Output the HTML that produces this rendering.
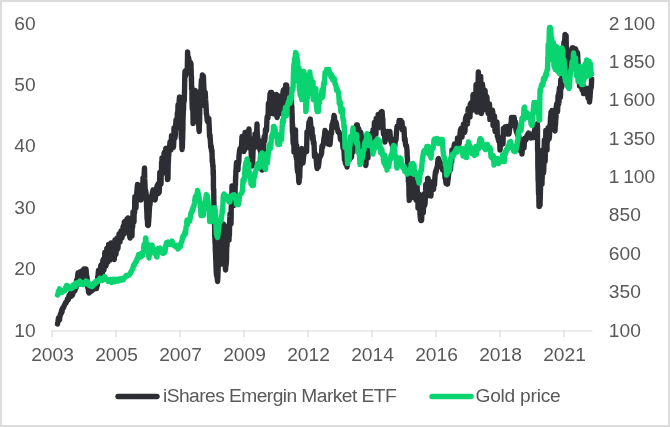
<!DOCTYPE html><html><head><meta charset="utf-8"><style>
html,body{margin:0;padding:0;background:#fff;}
svg{display:block;}
text{font-family:"Liberation Sans",sans-serif;font-size:19.2px;fill:#595959;}
</style></head><body><div style="will-change:transform;width:670px;height:427px">
<svg width="670" height="427" viewBox="0 0 670 427">
<rect x="0" y="0" width="670" height="427" fill="#fff"/>
<rect x="1" y="1" width="668" height="425" fill="none" stroke="#dcdcdc" stroke-width="2"/>
<path d="M51.5 331H592.5" stroke="#d9d9d9" stroke-width="1.2" fill="none"/>
<path d="M52 330.5V337" stroke="#d9d9d9" stroke-width="1.2" fill="none"/>
<path d="M116 330.5V337" stroke="#d9d9d9" stroke-width="1.2" fill="none"/>
<path d="M180 330.5V337" stroke="#d9d9d9" stroke-width="1.2" fill="none"/>
<path d="M244 330.5V337" stroke="#d9d9d9" stroke-width="1.2" fill="none"/>
<path d="M308 330.5V337" stroke="#d9d9d9" stroke-width="1.2" fill="none"/>
<path d="M372 330.5V337" stroke="#d9d9d9" stroke-width="1.2" fill="none"/>
<path d="M436 330.5V337" stroke="#d9d9d9" stroke-width="1.2" fill="none"/>
<path d="M500 330.5V337" stroke="#d9d9d9" stroke-width="1.2" fill="none"/>
<path d="M564 330.5V337" stroke="#d9d9d9" stroke-width="1.2" fill="none"/>
<text x="35.7" y="29.5" text-anchor="end">60</text>
<text x="35.7" y="90.9" text-anchor="end">50</text>
<text x="35.7" y="152.3" text-anchor="end">40</text>
<text x="35.7" y="213.7" text-anchor="end">30</text>
<text x="35.7" y="275.1" text-anchor="end">20</text>
<text x="35.7" y="336.5" text-anchor="end">10</text>
<text x="608.8" y="29.5" style="word-spacing:-1.6px">2 100</text>
<text x="608.8" y="67.9" style="word-spacing:-1.6px">1 850</text>
<text x="608.8" y="106.3" style="word-spacing:-1.6px">1 600</text>
<text x="608.8" y="144.6" style="word-spacing:-1.6px">1 350</text>
<text x="608.8" y="183.0" style="word-spacing:-1.6px">1 100</text>
<text x="608.8" y="221.4" style="word-spacing:-1.6px">850</text>
<text x="608.8" y="259.8" style="word-spacing:-1.6px">600</text>
<text x="608.8" y="298.1" style="word-spacing:-1.6px">350</text>
<text x="608.8" y="336.5" style="word-spacing:-1.6px">100</text>
<text x="52.5" y="361" text-anchor="middle">2003</text>
<text x="116.5" y="361" text-anchor="middle">2005</text>
<text x="180.5" y="361" text-anchor="middle">2007</text>
<text x="244.5" y="361" text-anchor="middle">2009</text>
<text x="308.5" y="361" text-anchor="middle">2012</text>
<text x="372.5" y="361" text-anchor="middle">2014</text>
<text x="436.5" y="361" text-anchor="middle">2016</text>
<text x="500.5" y="361" text-anchor="middle">2018</text>
<text x="564.5" y="361" text-anchor="middle">2021</text>
<polyline points="57.5,324.0 58.0,321.4 58.5,317.9 59.0,319.0 59.5,320.0 60.0,316.0 60.5,313.9 61.0,314.1 61.5,310.5 62.0,312.0 62.5,308.3 63.0,308.5 63.5,307.8 64.0,306.0 64.5,305.5 65.0,303.8 65.5,302.7 66.0,303.0 66.5,301.7 67.0,300.3 67.5,298.7 68.0,300.0 68.5,298.7 69.0,295.5 69.5,295.5 70.0,297.0 70.5,293.2 71.0,294.3 71.5,296.1 72.0,294.0 72.5,295.0 73.0,293.1 73.5,290.7 74.0,291.0 74.5,288.9 75.0,290.7 75.5,286.8 76.0,288.0 76.5,280.4 77.0,280.0 77.5,277.7 78.0,273.0 78.3,282.2 78.7,279.7 79.0,284.0 79.2,276.9 79.5,277.5 79.8,274.1 80.0,272.0 80.3,274.1 80.7,279.1 81.0,283.0 81.2,278.2 81.5,278.8 81.8,272.7 82.0,271.0 82.2,272.6 82.5,275.9 82.8,283.7 83.0,284.0 83.2,282.9 83.4,282.7 83.6,279.4 83.8,275.6 84.0,269.0 84.2,275.4 84.5,280.0 84.8,283.5 85.0,282.0 85.2,282.5 85.5,277.2 85.8,278.9 86.0,269.0 86.5,275.2 87.0,277.0 87.3,281.1 87.7,287.5 88.0,286.0 88.5,291.8 89.0,293.0 89.5,292.0 90.0,291.2 90.5,291.8 91.0,290.0 91.5,288.0 92.0,289.4 92.5,290.2 93.0,288.0 93.5,289.4 94.0,288.5 94.5,288.8 95.0,287.0 95.5,288.5 96.0,288.5 96.5,288.5 97.0,285.0 97.3,285.5 97.7,277.0 98.0,276.0 98.5,270.3 99.0,270.0 99.3,278.9 99.7,280.7 100.0,280.0 100.2,278.1 100.4,277.7 100.6,267.9 100.8,265.5 101.0,265.0 101.3,272.2 101.7,276.5 102.0,275.0 102.2,276.1 102.4,272.3 102.6,272.5 102.8,261.0 103.0,260.0 103.3,259.3 103.7,263.7 104.0,270.0 104.2,265.3 104.4,266.9 104.6,260.8 104.8,252.5 105.0,254.0 105.2,252.5 105.5,252.5 105.8,255.5 106.0,266.0 106.2,264.2 106.4,260.0 106.6,255.1 106.8,248.5 107.0,250.0 107.2,252.2 107.5,255.9 107.8,254.3 108.0,262.0 108.2,255.7 108.4,248.9 108.6,244.5 108.8,244.5 109.0,246.0 109.2,244.5 109.5,244.5 109.8,249.6 110.0,260.0 110.2,256.6 110.4,257.1 110.6,253.9 110.8,252.0 111.0,243.0 111.2,254.2 111.5,256.6 111.8,255.1 112.0,256.0 112.3,257.5 112.7,251.6 113.0,246.0 113.2,250.7 113.5,250.3 113.8,256.4 114.0,258.0 114.2,259.5 114.4,257.5 114.6,253.8 114.8,253.3 115.0,240.0 115.2,242.7 115.5,247.4 115.8,254.6 116.0,254.0 116.2,250.8 116.4,246.5 116.6,249.8 116.8,241.6 117.0,238.0 117.3,249.5 117.7,248.7 118.0,248.0 118.2,241.9 118.5,237.0 118.8,235.9 119.0,234.0 119.5,237.6 120.0,242.0 120.3,236.4 120.7,233.0 121.0,231.0 121.5,233.2 122.0,238.0 122.3,235.8 122.7,233.1 123.0,227.0 123.5,225.5 124.0,234.0 124.3,221.8 124.7,221.5 125.0,223.0 125.5,222.5 126.0,230.0 126.3,227.5 126.7,228.8 127.0,219.0 127.5,220.5 128.0,218.0 128.2,224.3 128.5,225.7 128.8,231.5 129.0,230.0 129.5,235.8 130.0,238.0 130.2,234.3 130.4,232.4 130.6,231.4 130.8,230.0 131.0,222.0 131.2,227.7 131.5,227.3 131.8,231.3 132.0,236.0 132.1,229.0 132.3,228.3 132.4,224.4 132.6,227.2 132.7,226.0 132.9,219.9 133.0,212.0 133.3,213.2 133.7,219.2 134.0,222.0 134.1,212.6 134.3,210.9 134.4,210.8 134.6,212.9 134.7,203.5 134.9,196.7 135.0,198.0 135.3,200.4 135.7,199.6 136.0,208.0 136.2,201.1 136.4,200.9 136.6,197.0 136.8,192.8 137.0,190.0 137.5,184.5 138.0,186.0 138.3,184.8 138.7,191.1 139.0,196.0 139.5,195.8 140.0,198.7 140.5,198.0 141.0,200.0 141.3,191.3 141.6,187.8 141.9,188.3 142.1,194.8 142.4,193.9 142.7,192.5 143.0,178.0 143.5,179.5 144.0,177.1 144.5,168.0 144.7,178.9 144.9,182.3 145.1,188.4 145.4,190.0 145.6,190.2 145.8,193.5 146.0,192.0 146.2,199.4 146.4,198.6 146.6,207.7 146.8,210.2 147.0,216.8 147.2,219.8 147.4,218.3 147.6,224.8 147.8,223.8 148.0,224.0 148.3,225.5 148.7,220.5 149.0,216.6 149.3,210.6 149.7,203.5 150.0,205.0 150.6,196.7 151.2,199.4 151.8,196.1 152.4,192.6 153.0,190.0 153.5,192.1 154.0,196.4 154.5,195.2 155.0,200.0 155.5,197.1 156.0,191.8 156.5,190.0 157.0,186.0 157.5,186.5 158.0,184.0 158.5,193.5 159.0,192.0 159.2,192.3 159.4,186.6 159.6,182.7 159.8,172.5 160.0,174.0 160.3,172.5 160.7,172.6 161.0,184.0 161.1,180.7 161.2,171.7 161.4,172.0 161.5,168.9 161.6,162.5 161.8,168.8 161.9,165.0 162.0,158.0 162.2,172.3 162.5,172.7 162.8,166.5 163.0,172.0 163.2,173.2 163.4,170.2 163.6,158.5 163.8,162.3 164.0,154.0 164.2,152.5 164.5,162.9 164.8,166.1 165.0,166.0 165.2,165.1 165.4,156.8 165.6,155.7 165.8,148.5 166.0,150.0 166.2,148.5 166.5,151.4 166.8,162.5 167.0,164.0 167.2,171.5 167.5,179.5 167.8,179.5 168.0,178.0 168.1,170.6 168.2,163.5 168.4,162.3 168.5,157.9 168.6,154.9 168.8,155.1 168.9,149.1 169.0,150.0 169.5,147.9 170.0,142.0 170.5,144.8 171.0,150.0 171.2,144.6 171.5,135.8 171.8,137.2 172.0,136.0 172.3,141.3 172.7,147.5 173.0,146.0 173.2,147.5 173.4,147.5 173.6,146.0 173.8,139.4 174.0,128.0 174.3,130.4 174.7,134.2 175.0,138.0 175.2,136.0 175.4,135.2 175.6,124.6 175.8,124.1 176.0,120.0 176.5,120.3 177.0,128.0 177.1,125.0 177.3,113.7 177.4,112.7 177.6,112.8 177.7,113.7 177.9,109.6 178.0,105.0 178.5,106.5 179.0,103.6 179.5,97.0 179.7,110.3 179.9,117.5 180.1,118.0 180.4,118.8 180.6,121.5 180.8,121.5 181.0,120.0 181.1,128.0 181.2,132.9 181.4,138.5 181.5,136.4 181.6,137.3 181.8,141.2 181.9,147.2 182.0,148.0 182.1,149.5 182.2,140.1 182.4,147.5 182.5,141.0 182.6,140.3 182.8,132.7 182.9,128.1 183.0,120.0 183.2,114.9 183.3,110.7 183.5,110.5 183.7,102.3 183.8,99.9 184.0,100.0 184.2,101.4 184.5,92.1 184.8,74.6 185.0,71.1 185.2,74.8 185.5,76.2 185.8,70.5 186.0,72.0 186.3,72.1 186.5,70.8 186.8,73.5 187.1,72.9 187.3,70.2 187.6,52.0 188.1,61.5 188.5,57.3 189.0,60.0 189.5,63.1 190.0,63.3 190.5,62.5 191.0,64.0 191.1,69.3 191.2,70.4 191.3,75.9 191.4,81.1 191.5,77.4 191.5,79.8 191.6,88.8 191.7,87.6 191.8,86.6 191.9,89.0 192.0,100.0 192.3,108.7 192.6,108.0 192.9,110.1 193.1,123.5 193.4,115.7 193.7,109.9 194.0,122.0 194.2,118.4 194.4,107.9 194.7,112.9 194.9,104.9 195.1,105.3 195.3,90.5 195.6,94.7 195.8,97.5 196.0,92.0 196.2,111.3 196.5,108.1 196.8,113.4 197.0,119.5 197.2,120.0 197.5,120.6 197.8,112.6 198.0,117.8 198.2,121.9 198.5,119.7 198.8,126.7 199.0,130.0 199.2,131.5 199.3,127.0 199.5,124.0 199.7,114.2 199.8,108.4 200.0,100.3 200.2,98.5 200.3,98.5 200.5,100.0 200.7,90.1 201.0,89.7 201.2,84.3 201.4,80.2 201.7,83.4 201.9,85.9 202.2,79.7 202.4,75.0 202.7,76.6 203.0,78.0 203.4,76.2 203.7,84.3 204.0,90.0 204.4,99.0 204.8,105.8 205.2,92.2 205.6,99.9 206.0,105.0 206.4,113.7 206.8,115.2 207.2,120.4 207.6,121.5 208.0,120.0 208.4,118.7 208.8,118.5 209.2,126.7 209.6,136.4 210.0,135.0 210.4,141.2 210.8,147.7 211.2,145.9 211.6,151.5 212.0,150.0 212.2,161.1 212.4,158.8 212.6,162.0 212.8,166.5 213.0,165.0 213.1,166.4 213.1,169.9 213.2,174.8 213.2,170.3 213.3,170.4 213.4,176.3 213.4,183.7 213.5,190.0 213.6,188.5 213.7,190.0 213.8,194.7 213.9,202.9 214.1,208.9 214.2,212.4 214.3,213.1 214.4,213.8 214.5,220.0 214.6,225.4 214.7,231.7 214.8,237.1 214.9,236.3 215.0,242.7 215.1,241.5 215.2,242.1 215.3,249.8 215.4,251.9 215.5,252.0 215.7,257.8 216.0,265.4 216.2,270.8 216.4,273.5 216.7,276.1 216.9,273.6 217.2,277.6 217.4,280.0 217.6,281.5 217.7,278.1 217.8,278.8 218.0,272.6 218.2,267.1 218.3,262.5 218.4,258.1 218.6,252.0 218.7,246.3 218.9,243.1 219.0,237.4 219.1,236.2 219.3,233.2 219.4,232.0 219.6,236.3 219.8,239.6 220.0,242.8 220.2,246.3 220.4,250.0 220.7,255.3 220.9,255.2 221.2,255.1 221.4,264.0 221.5,251.9 221.7,246.6 221.8,243.9 222.0,244.2 222.1,248.1 222.3,244.8 222.4,240.0 222.6,240.4 222.8,237.0 223.0,231.3 223.2,226.2 223.4,224.0 223.6,225.8 223.7,232.2 223.8,240.4 224.0,247.9 224.2,249.6 224.3,250.8 224.4,251.5 224.6,250.0 224.8,253.4 224.9,257.8 225.1,260.9 225.3,262.7 225.4,268.4 225.6,270.0 225.8,265.1 226.0,265.4 226.2,263.8 226.4,262.2 226.6,252.5 226.8,246.5 227.0,246.0 227.2,240.6 227.3,238.6 227.5,237.4 227.7,234.3 227.8,234.1 228.0,226.0 228.2,229.4 228.5,229.7 228.8,233.6 229.0,240.0 229.1,233.9 229.2,234.7 229.4,235.8 229.5,229.2 229.6,223.3 229.8,217.5 229.9,216.2 230.0,214.0 230.3,217.9 230.7,224.2 231.0,224.0 231.1,219.6 231.2,211.4 231.2,210.0 231.3,206.4 231.4,208.3 231.5,202.1 231.6,201.6 231.7,199.2 231.8,198.8 231.8,196.8 231.9,193.5 232.0,186.0 232.2,191.6 232.4,194.7 232.6,195.7 232.8,198.5 233.0,204.0 233.2,205.5 233.4,205.5 233.6,205.5 233.8,199.4 234.0,186.0 234.3,197.5 234.7,197.5 235.0,196.0 235.1,190.0 235.3,184.4 235.4,185.6 235.6,176.8 235.7,178.5 235.9,170.5 236.0,172.0 236.5,162.5 237.0,164.0 237.5,168.1 238.0,170.0 238.2,162.7 238.5,163.9 238.8,161.6 239.0,156.0 239.5,151.2 240.0,148.5 240.5,148.5 241.0,150.0 241.5,146.2 242.0,136.5 242.5,137.2 243.0,138.0 243.4,147.6 243.8,151.5 244.1,146.9 244.5,150.0 244.8,144.7 245.1,132.5 245.4,134.2 245.7,132.5 246.0,134.0 246.4,137.6 246.8,139.7 247.1,147.5 247.5,146.0 247.8,138.3 248.1,137.3 248.4,140.0 248.7,137.1 249.0,129.0 249.2,138.5 249.5,142.4 249.8,137.6 250.0,142.8 250.2,141.6 250.5,148.0 250.8,148.8 251.1,151.0 251.4,157.8 251.7,163.7 252.0,166.0 252.2,159.2 252.5,163.9 252.8,158.6 253.0,152.9 253.2,144.5 253.5,146.0 253.9,146.7 254.2,147.5 254.6,147.5 255.0,134.0 255.5,135.5 256.0,135.5 256.5,135.5 257.0,124.0 257.3,136.2 257.6,135.3 257.9,141.5 258.2,141.5 258.5,140.0 259.0,140.4 259.5,146.6 260.0,150.0 260.3,148.5 260.7,148.5 261.0,160.0 261.3,158.5 261.7,159.0 262.0,170.0 262.2,156.0 262.5,148.5 262.8,156.9 263.0,148.8 263.2,148.5 263.5,150.0 263.9,141.1 264.2,136.5 264.6,141.2 265.0,138.0 265.5,129.5 266.0,129.5 266.5,131.0 266.9,120.8 267.2,116.5 267.6,116.5 268.0,118.0 268.4,103.7 268.8,102.5 269.1,102.5 269.5,104.0 270.0,94.1 270.5,92.5 271.0,94.0 271.2,92.5 271.4,92.5 271.6,92.5 271.8,104.8 272.0,112.0 272.2,113.5 272.4,113.1 272.6,113.5 272.8,101.9 273.0,95.0 273.2,98.9 273.5,99.4 273.8,101.5 274.0,102.6 274.2,107.3 274.5,114.0 274.8,110.8 275.1,104.2 275.4,105.6 275.7,97.4 276.0,96.0 276.2,94.5 276.3,94.5 276.5,104.2 276.7,110.7 276.8,116.2 277.0,116.0 277.2,117.5 277.5,106.4 277.8,110.0 278.0,103.4 278.2,97.5 278.5,96.0 278.7,107.1 278.9,113.5 279.1,113.5 279.3,113.5 279.5,112.0 279.8,113.5 280.1,113.5 280.5,110.7 280.8,100.0 281.1,100.8 281.4,98.5 281.7,98.7 282.0,112.0 282.2,111.0 282.3,107.9 282.5,100.5 282.7,103.2 282.8,96.6 283.0,92.0 283.2,90.5 283.5,97.3 283.8,96.1 284.0,106.0 284.3,89.2 284.6,98.5 284.9,90.9 285.1,103.0 285.4,93.3 285.7,85.0 286.0,98.4 286.2,94.6 286.5,85.9 286.7,85.1 287.0,100.0 287.3,88.5 287.7,89.6 288.0,90.0 288.4,91.5 288.8,105.5 289.1,105.5 289.5,104.0 290.0,105.5 290.5,101.6 291.0,98.0 291.2,96.5 291.4,100.8 291.6,108.9 291.8,105.8 292.0,115.0 292.1,113.5 292.2,118.6 292.4,130.3 292.5,132.3 292.6,124.8 292.8,134.0 292.9,130.7 293.0,140.0 293.2,143.7 293.5,142.6 293.8,142.0 294.0,152.0 294.2,150.3 294.4,151.9 294.6,147.7 294.9,139.5 295.1,135.4 295.3,147.1 295.5,130.0 295.6,139.7 295.8,142.0 295.9,151.3 296.0,156.3 296.2,155.6 296.3,157.0 296.5,159.2 296.6,152.0 296.7,145.8 296.9,153.9 297.0,165.0 297.3,169.4 297.7,172.0 298.0,168.5 298.4,171.5 298.7,181.0 299.0,182.5 299.2,180.1 299.5,175.2 299.7,178.5 300.0,165.0 300.3,166.5 300.6,156.6 300.9,156.6 301.2,153.8 301.5,150.0 301.9,148.5 302.2,154.4 302.6,158.1 303.0,163.0 303.5,157.2 304.0,154.4 304.5,151.1 305.0,150.0 305.4,151.5 305.8,151.5 306.2,151.5 306.6,151.5 307.0,132.0 307.5,133.5 308.0,133.5 308.5,128.4 309.0,122.0 309.6,121.7 310.3,119.0 310.9,126.7 311.4,129.5 312.0,128.0 312.5,139.0 313.0,136.0 313.5,143.5 314.0,142.0 314.5,156.3 315.0,153.0 315.5,155.3 316.0,156.0 316.6,164.6 317.1,168.5 317.7,167.0 318.3,167.0 318.9,163.1 319.5,156.0 320.0,156.8 320.5,156.4 321.0,154.8 321.5,153.8 322.0,146.0 322.5,147.5 323.0,144.6 323.5,143.4 324.0,138.0 324.5,135.7 325.0,130.5 325.5,131.8 326.0,132.0 326.5,133.0 327.0,135.0 327.5,138.0 328.0,144.1 328.5,143.9 329.0,143.0 329.5,144.5 330.0,144.5 330.5,139.1 331.0,132.0 331.5,133.5 332.0,124.4 332.5,128.1 333.0,121.0 333.5,121.6 334.0,115.5 334.5,117.0 335.0,125.5 335.5,121.7 336.0,122.3 336.5,124.0 337.0,128.3 337.5,129.1 338.0,131.8 338.5,131.8 339.0,132.0 339.5,133.9 340.0,134.8 340.5,139.5 341.0,138.0 341.5,138.5 342.0,141.1 342.5,142.0 343.0,148.0 343.5,147.2 344.0,151.2 344.5,159.8 345.0,160.0 345.5,163.5 346.0,158.5 346.5,162.0 347.0,167.0 347.5,156.5 348.0,156.9 348.5,159.4 349.0,158.0 349.2,159.5 349.5,159.5 349.8,153.0 350.0,146.0 350.3,145.2 350.7,152.1 351.0,156.0 351.2,157.5 351.4,157.5 351.6,155.6 351.8,147.5 352.0,140.0 352.2,138.5 352.5,138.5 352.8,138.5 353.0,152.0 353.2,142.7 353.4,145.3 353.6,147.0 353.8,141.2 354.0,134.0 354.2,138.7 354.5,139.9 354.8,142.1 355.0,146.0 355.2,147.5 355.4,138.1 355.6,137.6 355.8,128.5 356.0,130.0 356.6,125.0 357.2,126.5 357.4,125.0 357.7,132.7 357.9,138.5 358.2,140.0 358.5,130.8 358.7,128.5 359.0,130.0 359.2,134.1 359.4,141.5 359.6,136.0 359.8,142.8 360.0,146.0 360.2,147.5 360.5,141.3 360.8,132.5 361.0,134.0 361.2,135.7 361.4,140.2 361.6,145.7 361.8,151.1 362.0,152.0 362.2,151.2 362.5,138.5 362.8,138.5 363.0,140.0 363.2,138.5 363.4,138.5 363.6,142.3 363.8,143.9 364.0,158.0 364.3,149.1 364.7,146.5 365.0,148.0 365.2,151.4 365.4,152.8 365.6,159.9 365.8,165.5 366.0,164.0 366.2,157.2 366.5,156.0 366.8,148.5 367.0,150.0 367.5,148.5 368.0,158.0 368.2,142.5 368.5,142.5 368.8,142.5 369.0,144.0 369.5,142.5 370.0,152.0 370.2,134.5 370.4,139.9 370.6,134.5 370.8,136.2 371.0,136.0 371.3,134.5 371.7,147.2 372.0,146.0 372.2,147.5 372.4,147.5 372.6,147.5 372.8,143.9 373.0,130.0 373.3,135.8 373.7,134.0 374.0,140.0 374.2,127.9 374.4,122.5 374.6,122.5 374.8,122.5 375.0,124.0 375.3,125.9 375.7,123.3 376.0,134.0 376.2,118.5 376.5,118.5 376.8,118.5 377.0,120.0 377.5,120.4 378.0,128.0 378.2,114.5 378.5,114.5 378.8,114.5 379.0,116.0 379.5,116.6 380.0,122.0 380.5,120.1 381.1,111.9 381.6,113.0 382.1,111.5 382.6,120.0 382.8,118.5 383.1,130.2 383.3,128.6 383.5,134.0 384.0,132.5 384.5,132.5 385.0,142.0 385.6,134.5 386.2,134.5 386.8,136.0 387.4,131.5 388.0,131.5 388.6,133.0 389.2,132.2 389.9,131.6 390.5,140.0 391.0,141.9 391.5,141.7 392.0,144.4 392.5,145.8 393.0,147.0 393.6,147.3 394.2,147.4 394.8,145.9 395.4,138.5 396.0,140.0 396.5,132.1 397.0,126.5 397.5,126.9 398.0,126.5 398.5,128.0 399.1,120.5 399.8,123.6 400.4,122.0 400.9,120.5 401.4,124.6 402.0,121.8 402.5,130.0 403.0,128.5 403.5,128.5 404.0,128.5 404.5,140.0 405.0,138.5 405.5,144.6 406.0,146.0 406.5,145.7 407.0,150.0 407.2,156.3 407.4,157.9 407.6,167.2 407.9,171.5 408.1,171.5 408.3,170.0 408.4,181.4 408.5,177.3 408.7,179.5 408.8,185.1 408.9,186.2 409.0,196.0 409.2,197.1 409.3,200.4 409.4,200.0 409.6,198.3 409.8,197.7 409.9,191.6 410.1,190.5 410.3,185.5 410.5,180.0 410.7,180.2 410.9,187.6 411.1,190.2 411.3,196.4 411.5,196.0 411.7,197.5 411.9,197.3 412.1,191.3 412.3,184.7 412.5,178.0 412.9,182.7 413.2,189.7 413.6,193.5 414.0,192.0 414.2,190.2 414.5,192.6 414.8,183.5 415.0,180.0 415.2,185.0 415.3,185.8 415.5,189.1 415.7,197.9 415.8,197.3 416.0,200.0 416.2,197.0 416.5,192.6 416.8,187.7 417.0,186.0 417.1,184.5 417.3,192.0 417.4,192.8 417.6,199.7 417.7,199.2 417.9,197.3 418.0,208.0 418.2,199.2 418.5,197.9 418.8,197.5 419.0,194.0 419.2,199.0 419.3,203.7 419.5,204.5 419.7,205.9 419.8,208.3 420.0,214.0 420.5,219.1 420.9,220.5 421.4,219.0 421.6,220.5 421.7,217.6 421.9,212.9 422.0,213.5 422.2,204.0 422.6,205.7 423.0,212.0 423.2,213.1 423.4,209.8 423.6,206.8 423.8,206.4 424.0,194.0 424.3,205.5 424.7,205.5 425.0,204.0 425.2,201.4 425.4,192.8 425.6,190.4 425.8,184.5 426.0,186.0 426.3,195.2 426.7,192.5 427.0,196.0 427.2,192.6 427.4,188.6 427.6,178.5 427.8,178.5 428.0,180.0 428.2,178.5 428.5,186.4 428.8,190.2 429.0,192.0 429.5,183.8 430.0,184.0 430.2,182.5 430.5,186.5 430.8,189.3 431.0,196.0 431.2,188.9 431.5,184.5 431.8,190.6 432.0,182.0 432.5,189.5 433.0,188.0 433.5,189.5 434.0,183.9 434.5,184.8 435.0,176.0 435.5,171.6 436.0,172.6 436.5,168.7 437.0,168.0 437.5,165.3 438.0,159.5 438.5,158.5 439.0,160.0 439.5,161.5 440.0,166.5 440.5,166.5 441.0,165.0 441.5,163.5 442.0,165.6 442.5,169.9 443.0,170.0 443.5,170.5 444.0,168.5 444.5,168.5 445.0,178.0 445.5,177.9 446.0,183.5 446.5,182.6 447.0,183.0 447.5,184.1 448.0,179.9 448.5,176.0 449.0,170.0 449.5,171.5 450.0,168.3 450.5,169.5 451.0,160.0 451.3,161.5 451.7,161.5 452.0,150.0 452.5,153.6 453.0,156.0 453.4,154.7 453.8,151.0 454.1,146.0 454.5,144.0 455.0,147.4 455.5,147.6 456.0,150.0 456.4,151.3 456.8,147.8 457.1,150.3 457.5,138.0 458.0,144.8 458.5,143.8 459.0,144.0 459.4,141.2 459.8,138.3 460.1,132.9 460.5,130.0 461.0,128.5 461.5,133.3 462.0,137.0 462.4,128.7 462.8,129.7 463.1,131.4 463.5,124.0 464.0,132.5 464.5,132.5 465.0,131.0 465.2,124.7 465.5,118.4 465.8,123.2 466.0,117.0 466.5,115.5 467.0,115.5 467.5,124.0 467.8,114.8 468.0,112.4 468.2,108.5 468.5,110.0 469.0,108.5 469.5,109.5 470.0,117.0 470.2,104.4 470.5,106.5 470.8,111.6 471.0,103.0 471.5,105.4 472.0,104.6 472.5,110.0 472.8,105.7 473.0,95.2 473.2,94.5 473.5,96.0 473.9,94.5 474.2,108.8 474.6,105.1 475.0,110.0 475.1,103.8 475.3,99.7 475.4,96.2 475.6,98.5 475.7,101.0 475.9,98.5 476.0,86.0 476.1,84.5 476.2,84.5 476.4,87.9 476.5,96.9 476.6,100.7 476.8,106.6 476.9,108.5 477.0,112.0 477.1,97.9 477.2,95.4 477.4,93.4 477.5,90.7 477.6,93.8 477.7,89.2 477.8,89.4 477.9,91.7 478.0,90.2 478.2,80.0 478.3,72.6 478.4,72.0 478.5,78.0 478.6,88.6 478.7,85.7 478.8,84.3 478.9,87.0 478.9,97.3 479.0,101.1 479.1,96.1 479.2,99.0 479.3,104.8 479.4,108.6 479.5,112.0 479.6,103.2 479.7,93.8 479.8,89.6 479.9,89.4 480.0,86.2 480.1,86.1 480.2,86.5 480.3,79.1 480.4,76.5 480.5,78.0 480.6,76.5 480.7,76.5 480.8,83.9 480.9,88.6 481.0,95.8 481.1,105.1 481.2,103.3 481.3,111.1 481.4,113.5 481.5,112.0 481.6,111.8 481.8,108.1 481.9,110.1 482.0,100.9 482.1,98.5 482.2,88.4 482.4,92.9 482.5,84.0 482.6,86.2 482.8,96.6 482.9,87.4 483.0,99.8 483.1,103.0 483.2,105.0 483.4,108.3 483.5,110.0 483.7,102.3 483.9,101.3 484.1,104.3 484.3,102.3 484.5,92.0 484.8,97.7 485.1,90.5 485.4,98.9 485.7,98.0 486.0,108.0 486.3,96.9 486.7,96.5 487.0,98.0 487.4,108.8 487.8,109.9 488.1,113.5 488.5,112.0 489.0,113.5 489.5,104.0 489.9,119.4 490.2,113.2 490.6,113.8 491.0,118.0 491.5,115.5 492.0,110.0 492.4,110.1 492.8,112.3 493.1,125.5 493.5,124.0 494.0,125.5 494.5,116.0 494.9,129.5 495.2,131.5 495.6,131.5 496.0,130.0 496.5,130.8 497.0,122.0 497.3,135.9 497.6,135.6 497.9,136.6 498.2,139.5 498.5,138.0 498.9,141.6 499.2,141.9 499.6,139.8 500.0,150.0 500.5,144.7 501.0,138.6 501.5,140.0 502.0,138.5 502.5,138.5 503.0,144.0 503.4,128.5 503.8,128.5 504.1,128.5 504.5,130.0 505.0,127.1 505.5,127.7 506.0,128.0 506.5,126.5 507.0,126.5 507.5,134.0 508.0,132.8 508.5,132.5 509.0,134.0 509.5,129.7 510.0,127.3 510.5,124.5 511.0,126.0 511.5,117.5 512.0,117.5 512.5,117.5 513.0,119.0 513.6,117.5 514.2,117.5 514.8,124.3 515.4,121.9 516.0,130.0 516.5,132.3 517.0,128.6 517.5,134.9 518.0,136.0 518.5,134.5 519.0,137.3 519.5,141.8 520.0,144.0 520.5,150.8 521.0,150.2 521.5,142.5 522.0,154.0 522.5,146.5 523.0,146.5 523.5,146.5 524.0,148.0 524.5,138.5 525.0,138.5 525.5,138.7 526.0,140.0 526.5,137.7 527.0,135.3 527.5,135.0 528.0,134.0 528.6,133.1 529.2,135.2 529.8,135.6 530.4,134.5 531.0,138.0 531.5,134.5 532.0,134.7 532.5,134.5 533.0,136.0 533.6,137.5 534.2,132.0 534.8,129.3 535.4,127.6 536.0,126.0 536.5,126.5 537.0,125.0 537.1,128.1 537.1,133.9 537.2,126.2 537.3,126.4 537.4,123.8 537.5,127.9 537.5,134.4 537.6,150.0 537.7,148.5 537.8,153.7 537.8,165.0 537.9,168.5 538.0,170.5 538.1,178.7 538.1,178.5 538.2,181.5 538.3,180.0 538.5,192.0 538.6,194.2 538.8,192.7 539.0,206.2 539.1,205.0 539.3,204.5 539.4,206.5 539.6,205.0 539.8,205.5 540.0,205.4 540.1,201.8 540.3,196.8 540.5,188.0 540.6,180.2 540.7,174.6 540.8,173.8 540.9,175.9 540.9,175.3 541.0,166.2 541.1,159.4 541.2,160.0 541.3,158.7 541.4,165.3 541.5,159.8 541.7,158.5 541.8,170.0 541.9,174.6 542.0,184.0 542.1,176.2 542.2,178.6 542.2,176.3 542.3,169.3 542.4,165.4 542.5,163.7 542.6,162.9 542.6,160.3 542.7,158.3 542.8,150.0 542.9,151.1 543.0,153.8 543.1,164.0 543.3,173.5 543.4,173.0 543.5,170.9 543.6,172.0 543.7,171.4 543.8,168.8 543.8,168.4 543.9,162.7 544.0,153.8 544.1,152.2 544.2,153.4 544.2,148.5 544.3,143.7 544.4,140.0 544.5,158.3 544.7,161.5 544.8,160.5 544.9,160.9 545.1,161.5 545.2,160.0 545.3,149.4 545.4,150.0 545.5,146.1 545.6,145.4 545.7,143.2 545.8,130.5 545.9,130.5 546.0,132.0 546.2,130.5 546.4,131.9 546.6,141.2 546.8,144.7 547.0,150.0 547.1,136.8 547.3,132.2 547.4,137.9 547.6,141.2 547.7,141.3 547.9,133.3 548.0,128.0 548.3,137.0 548.7,134.2 549.0,138.0 549.2,138.6 549.5,136.0 549.8,125.3 550.0,125.0 550.2,126.5 550.5,117.0 550.8,115.9 551.0,112.0 551.5,115.4 552.0,110.5 552.5,121.5 553.0,120.0 553.5,118.5 554.0,118.5 554.5,125.4 555.0,131.0 555.2,125.7 555.5,124.6 555.8,118.0 556.0,118.0 556.2,107.0 556.4,105.8 556.5,105.3 556.7,104.0 557.0,104.4 557.4,112.0 557.5,109.2 557.6,111.1 557.8,104.4 557.9,100.9 558.0,96.0 558.4,98.2 558.7,104.0 558.8,93.4 559.0,102.2 559.1,91.1 559.3,91.1 559.4,88.0 559.7,94.5 560.0,96.0 560.1,97.5 560.3,96.9 560.4,97.5 560.6,93.0 560.7,80.0 561.0,87.5 561.4,86.0 561.5,87.5 561.6,87.5 561.8,86.1 561.9,86.7 562.0,68.0 562.5,69.5 563.0,60.0 563.3,61.5 563.6,57.0 563.9,42.5 564.2,42.5 564.5,44.0 565.0,34.5 565.4,36.0 565.6,39.8 565.8,35.3 566.1,35.5 566.3,48.0 566.5,58.4 566.7,63.2 566.9,67.1 567.1,62.9 567.3,66.0 567.8,64.5 568.3,74.0 568.5,68.1 568.6,63.9 568.8,60.5 569.0,62.0 569.5,63.5 570.0,54.0 570.5,55.5 571.0,55.5 571.5,50.0 572.1,47.9 572.7,51.1 573.3,48.0 573.9,51.5 574.4,51.5 575.0,50.0 575.5,48.7 576.0,50.3 576.5,55.5 577.0,54.0 577.5,52.5 578.0,62.0 578.5,71.5 579.0,70.0 579.1,68.5 579.2,68.5 579.4,68.5 579.5,76.1 579.6,86.0 580.1,83.3 580.5,82.5 581.0,84.0 581.5,86.1 582.0,90.0 582.5,85.6 583.0,85.0 583.5,93.5 584.0,92.0 584.5,89.0 585.0,88.0 585.5,88.7 586.0,94.0 586.5,94.3 587.0,90.0 587.5,88.5 588.0,98.0 588.5,96.5 589.0,96.5 589.5,102.0 589.8,98.8 590.0,97.8 590.3,92.0 590.6,89.4 591.0,86.0 591.3,87.5 591.6,79.0" fill="none" stroke="#2d2e34" stroke-width="5.4" stroke-linejoin="round" stroke-linecap="round"/>
<polyline points="57.5,295.0 58.0,294.2 58.5,291.2 59.0,292.0 59.5,288.8 60.0,290.0 60.6,290.8 61.2,290.8 61.8,292.5 62.4,291.9 63.0,291.0 63.6,290.7 64.2,290.3 64.8,290.7 65.4,287.8 66.0,288.0 66.6,285.5 67.1,285.5 67.7,288.6 68.3,288.8 68.9,288.1 69.4,287.6 70.0,287.0 70.6,287.5 71.2,288.5 71.8,288.2 72.4,288.1 73.0,285.0 73.6,286.5 74.2,286.5 74.8,286.4 75.4,286.5 76.0,283.0 76.6,284.5 77.1,284.3 77.7,282.6 78.3,282.7 78.9,283.1 79.4,283.1 80.0,281.0 80.6,284.2 81.2,283.1 81.8,283.4 82.4,284.3 83.0,283.0 83.6,284.5 84.2,284.3 84.8,283.2 85.4,283.5 86.0,281.0 86.6,281.9 87.1,283.6 87.7,281.8 88.3,282.9 88.9,285.3 89.4,285.4 90.0,285.0 90.6,285.9 91.1,286.2 91.7,285.0 92.3,286.5 92.9,285.8 93.4,284.8 94.0,283.0 94.6,283.7 95.1,283.7 95.7,281.4 96.3,280.8 96.9,281.3 97.4,281.8 98.0,281.0 98.6,281.1 99.2,280.1 99.8,278.4 100.4,279.8 101.0,279.0 101.6,278.9 102.2,280.5 102.8,279.1 103.4,279.9 104.0,278.0 104.6,276.6 105.2,278.6 105.8,278.9 106.4,279.2 107.0,280.0 107.6,279.6 108.2,281.4 108.8,280.0 109.4,281.1 110.0,281.0 110.6,279.6 111.1,280.9 111.7,282.4 112.3,281.6 112.9,281.0 113.4,279.2 114.0,280.0 114.6,281.8 115.2,280.9 115.8,280.6 116.4,279.4 117.0,281.0 117.6,279.6 118.2,279.9 118.8,281.0 119.4,278.9 120.0,280.0 120.6,278.9 121.1,279.5 121.7,279.9 122.3,278.7 122.9,279.2 123.4,279.6 124.0,278.0 124.6,277.8 125.2,276.6 125.8,276.6 126.4,275.4 127.0,276.0 127.6,275.6 128.2,275.4 128.8,275.2 129.4,274.3 130.0,274.0 130.6,272.9 131.2,271.3 131.8,270.7 132.4,269.7 133.0,268.0 133.6,264.9 134.2,265.5 134.8,263.9 135.4,262.0 136.0,262.0 136.5,261.2 137.0,259.6 137.5,257.7 138.0,257.0 138.6,254.5 139.2,255.2 139.8,256.7 140.4,257.1 141.0,256.0 141.5,253.6 142.0,255.2 142.5,255.8 143.0,254.0 143.5,250.1 144.0,244.5 144.5,245.0 145.1,246.5 145.6,238.0 145.8,238.2 146.1,243.6 146.3,249.4 146.5,250.0 147.0,244.3 147.5,244.0 147.9,246.9 148.2,248.1 148.6,253.4 149.0,258.0 149.5,253.3 150.0,253.4 150.5,248.0 151.0,248.9 151.5,246.7 152.0,245.0 152.5,248.1 153.0,249.2 153.5,252.0 154.0,252.9 154.5,253.4 155.0,250.0 155.5,249.8 156.0,251.7 156.5,256.4 157.0,257.0 157.5,250.0 158.0,248.6 158.5,250.0 159.0,249.4 159.5,248.5 160.0,248.0 160.5,251.2 161.0,250.2 161.5,251.9 162.0,252.0 162.5,253.1 163.0,253.4 163.5,253.0 164.0,253.0 164.5,252.6 165.0,252.0 165.5,246.0 166.0,245.1 166.5,242.8 167.0,243.0 167.5,242.6 168.0,242.1 168.5,243.5 169.0,244.2 169.5,244.0 170.0,244.5 170.5,242.3 171.0,242.9 171.5,242.7 172.0,241.0 172.5,242.6 173.0,244.4 173.5,245.2 174.0,245.0 174.5,245.8 175.0,245.1 175.5,246.4 176.0,247.0 176.5,245.5 177.0,245.7 177.5,247.1 178.0,249.0 178.5,245.1 179.0,245.4 179.5,247.6 180.0,245.0 180.5,246.5 181.0,243.9 181.5,241.7 182.0,241.0 182.5,237.8 183.0,235.9 183.5,236.4 184.0,236.0 184.5,234.0 185.0,231.5 185.5,233.7 186.0,228.0 186.5,224.6 187.0,220.1 187.5,224.7 188.0,220.0 188.6,219.7 189.2,218.9 189.8,220.9 190.4,216.7 191.0,213.0 191.6,212.8 192.2,209.5 192.8,210.7 193.4,206.5 194.0,206.0 194.5,202.6 195.0,198.5 195.5,196.5 196.0,198.0 196.5,195.0 197.0,194.6 197.5,190.5 198.0,192.0 198.5,195.4 199.0,196.9 199.5,200.2 200.0,204.0 200.5,207.8 201.0,215.5 201.5,215.5 202.0,214.0 202.5,215.5 203.0,215.5 203.5,214.7 204.0,205.0 204.6,206.5 205.2,201.9 205.8,198.3 206.4,194.6 207.0,196.0 207.5,196.6 208.0,201.0 208.5,208.8 209.0,210.0 209.3,209.8 209.7,221.5 210.0,220.0 210.5,221.5 211.0,221.5 211.5,211.6 212.0,213.0 212.5,214.4 213.0,211.4 213.5,207.9 214.0,208.0 214.4,209.0 214.8,207.8 215.2,210.4 215.6,212.7 216.0,225.0 216.3,233.0 216.7,235.2 217.0,236.0 217.5,237.5 218.0,233.7 218.5,228.7 219.0,226.0 219.5,220.2 220.0,220.0 220.5,221.5 221.0,220.3 221.5,217.5 222.0,214.0 222.3,209.3 222.7,211.5 223.0,201.5 223.3,195.5 223.7,194.6 224.0,194.0 224.5,194.6 225.0,197.0 225.5,197.9 226.0,198.0 226.6,199.0 227.2,196.5 227.8,196.7 228.4,198.4 229.0,202.0 229.5,202.2 230.0,201.7 230.5,197.6 231.0,198.0 231.5,196.1 232.0,196.5 232.5,197.4 233.0,195.0 233.6,196.2 234.2,194.8 234.8,195.6 235.4,196.5 236.0,200.0 236.5,204.5 237.0,204.5 237.5,203.8 238.0,203.0 238.5,204.5 239.0,200.9 239.5,195.5 240.0,195.0 240.6,194.2 241.2,193.6 241.8,192.8 242.4,190.7 243.0,180.0 243.5,179.0 244.0,181.5 244.5,177.8 245.0,168.0 245.5,165.2 246.0,162.2 246.5,166.4 247.0,159.0 247.5,166.6 248.0,170.2 248.5,163.5 249.0,172.0 249.5,176.9 250.0,173.4 250.5,176.3 251.0,184.0 251.6,184.2 252.2,185.5 252.8,185.5 253.4,185.5 254.0,176.0 254.6,176.7 255.2,172.8 255.8,170.6 256.4,167.7 257.0,168.0 257.6,163.7 258.2,165.7 258.8,167.8 259.4,165.3 260.0,160.0 260.5,155.1 261.0,156.3 261.5,155.8 262.0,153.0 262.5,153.3 263.0,157.8 263.5,163.5 264.0,162.0 264.5,167.8 265.0,168.0 265.6,169.5 266.2,155.5 266.8,154.5 267.4,162.9 268.0,156.0 268.6,151.3 269.2,147.3 269.8,144.0 270.4,148.6 271.0,144.0 271.5,136.3 272.0,137.4 272.5,133.8 273.0,135.0 273.5,126.5 274.0,126.5 274.5,129.6 275.0,128.0 275.5,135.5 276.0,135.5 276.5,135.5 277.0,134.0 277.5,142.7 278.0,144.5 278.5,144.5 279.0,143.0 279.5,144.5 280.0,141.0 280.5,140.0 281.0,139.1 281.5,139.8 282.0,130.0 282.5,120.5 283.0,122.7 283.5,122.0 284.0,112.5 284.5,117.1 285.0,114.0 285.5,107.1 286.0,115.5 286.5,115.5 287.0,108.0 287.5,105.5 288.0,103.4 288.5,101.5 289.0,103.0 289.5,97.6 290.0,103.2 290.5,100.5 291.0,98.0 291.5,98.4 292.0,88.9 292.5,88.0 292.7,89.5 292.9,89.5 293.1,87.3 293.3,79.0 293.5,72.0 293.9,64.7 294.2,64.5 294.6,58.5 295.0,60.0 295.6,52.5 296.3,54.0 296.8,55.2 297.3,62.0 297.4,63.0 297.6,73.4 297.7,61.9 297.9,73.4 298.0,80.0 298.2,81.5 298.5,76.8 298.8,81.0 299.0,68.0 299.1,80.1 299.2,87.1 299.4,83.2 299.5,89.9 299.6,80.2 299.8,76.4 299.9,77.4 300.0,94.0 300.2,95.5 300.3,87.6 300.5,78.4 300.7,95.5 300.8,92.8 301.0,73.0 301.1,88.2 301.2,88.5 301.4,91.4 301.5,89.2 301.6,95.9 301.8,99.5 301.9,99.5 302.0,98.0 302.1,90.3 302.2,88.9 302.4,89.2 302.5,90.6 302.6,81.7 302.8,72.8 302.9,71.5 303.0,73.0 303.1,71.5 303.2,83.5 303.4,78.1 303.5,74.7 303.6,82.0 303.8,71.5 303.9,83.0 304.0,100.0 304.1,74.5 304.2,74.5 304.3,74.5 304.5,74.5 304.6,74.5 304.7,74.5 304.8,76.0 304.9,74.5 305.0,80.4 305.1,76.5 305.3,93.1 305.4,89.6 305.5,95.0 305.6,95.3 305.8,111.5 305.9,106.8 306.1,98.0 306.2,110.0 306.4,94.5 306.6,101.0 306.8,104.4 307.0,96.0 307.2,95.7 307.4,90.5 307.6,97.5 307.8,85.8 308.0,80.0 308.6,81.5 309.2,81.5 309.8,72.0 310.4,79.5 311.0,78.0 311.2,88.8 311.5,93.5 311.8,90.5 312.0,92.0 312.3,93.5 312.7,93.5 313.0,82.0 313.2,95.9 313.4,99.5 313.6,99.5 313.8,98.7 314.0,98.0 314.5,95.1 315.0,90.0 315.3,95.2 315.6,91.3 315.9,88.6 316.2,101.9 316.5,106.0 317.1,111.5 317.8,110.0 318.4,111.5 319.0,102.0 319.5,103.0 320.0,96.1 320.5,96.0 321.0,97.4 321.5,94.6 322.0,90.0 322.5,97.5 323.0,96.0 323.4,85.7 323.8,82.5 324.1,82.5 324.5,84.0 325.0,72.5 325.5,72.5 326.0,74.0 326.6,69.5 327.1,69.5 327.7,71.0 328.3,69.5 328.9,69.5 329.5,74.0 330.0,72.5 330.5,74.0 331.0,77.0 331.6,75.5 332.1,75.5 332.7,80.0 333.3,79.8 333.9,78.5 334.4,78.8 335.0,84.0 335.6,84.4 336.1,86.8 336.6,90.4 337.2,89.0 337.7,90.7 338.3,92.0 338.8,95.0 339.3,103.5 339.8,103.5 340.3,102.0 340.8,111.5 341.3,111.5 341.8,110.0 342.3,108.5 342.7,116.7 343.2,120.0 343.6,120.2 343.9,126.7 344.2,125.4 344.6,132.0 345.0,147.5 345.3,147.5 345.6,147.5 346.0,146.0 346.4,144.5 346.8,144.5 347.2,155.1 347.6,163.5 348.0,162.0 348.4,156.0 348.8,158.4 349.2,159.2 349.6,145.5 350.0,146.0 350.6,136.3 351.2,137.5 351.8,136.4 352.4,134.0 353.0,128.0 353.5,137.5 354.0,137.5 354.5,137.5 355.0,136.0 355.5,138.7 356.0,142.2 356.5,134.5 357.0,144.0 357.5,142.5 358.0,149.1 358.5,152.5 359.0,154.0 359.5,155.2 360.0,164.5 360.5,162.8 361.0,163.0 361.6,157.5 362.2,158.4 362.8,154.6 363.4,150.1 364.0,150.0 364.6,143.8 365.1,141.7 365.7,142.7 366.3,139.3 366.9,133.7 367.4,135.5 368.0,135.0 368.5,135.8 369.0,145.5 369.5,137.4 370.0,144.0 370.6,142.5 371.2,146.3 371.8,143.3 372.4,149.3 373.0,154.0 373.5,146.6 374.0,150.5 374.5,146.9 375.0,148.0 375.6,141.1 376.2,143.9 376.8,142.7 377.4,138.9 378.0,140.0 378.5,140.9 379.0,142.3 379.5,140.8 380.0,146.0 380.6,152.7 381.2,149.1 381.8,149.4 382.4,154.9 383.0,154.0 383.5,160.2 384.0,163.1 384.5,155.0 385.0,162.0 385.5,165.9 386.0,163.0 386.5,161.9 387.0,170.0 387.6,166.7 388.2,165.6 388.8,166.7 389.4,161.6 390.0,158.0 390.6,159.4 391.2,154.8 391.8,158.0 392.4,151.2 393.0,147.0 393.5,145.5 394.0,145.5 394.5,146.6 395.0,158.0 395.5,156.5 396.0,156.5 396.5,166.6 397.0,168.0 397.5,164.8 398.0,162.2 398.5,161.8 399.0,163.0 399.5,160.0 400.0,157.9 400.5,158.9 401.0,159.0 401.6,165.7 402.2,166.2 402.8,167.5 403.4,167.5 404.0,166.0 404.6,171.4 405.2,171.4 405.8,171.7 406.4,170.2 407.0,174.0 407.6,171.5 408.2,170.3 408.8,172.2 409.4,173.0 410.0,170.0 410.6,170.0 411.1,164.0 411.7,165.9 412.3,164.7 412.9,163.5 413.4,170.1 414.0,165.0 414.5,174.5 415.0,173.3 415.5,174.5 416.0,173.0 416.6,173.2 417.2,173.4 417.8,178.7 418.4,180.0 419.0,183.0 419.5,179.7 420.0,174.3 420.5,172.6 421.0,170.0 421.5,170.6 422.0,163.2 422.5,159.2 423.0,156.0 423.5,151.8 424.0,152.2 424.5,150.5 425.0,152.0 425.6,152.2 426.2,152.7 426.8,146.5 427.4,146.5 428.0,148.0 428.6,146.5 429.2,154.4 429.8,152.4 430.4,153.2 431.0,158.0 431.6,151.4 432.2,148.1 432.8,148.7 433.4,146.4 434.0,140.0 434.5,139.2 435.0,140.7 435.5,140.8 436.0,140.0 436.5,138.6 437.0,138.5 437.5,139.9 438.0,142.0 438.5,143.5 439.0,142.5 439.5,142.4 440.0,141.0 440.6,139.5 441.2,139.5 441.8,139.5 442.4,139.5 443.0,150.0 443.5,155.1 444.0,156.7 444.5,158.4 445.0,160.0 445.5,165.3 446.0,165.0 446.5,175.1 447.0,174.0 447.6,163.1 448.2,165.8 448.8,162.5 449.4,171.0 450.0,164.0 450.6,158.6 451.2,156.9 451.8,154.8 452.4,157.2 453.0,154.0 453.6,155.5 454.2,153.6 454.8,152.1 455.4,150.5 456.0,152.0 456.6,148.5 457.1,152.0 457.7,150.7 458.3,149.4 458.9,148.5 459.4,148.5 460.0,150.0 460.6,148.5 461.2,148.5 461.8,150.0 462.4,148.5 463.0,156.0 463.5,154.5 464.0,154.5 464.5,154.5 465.0,156.0 465.5,153.9 466.0,157.5 466.5,157.5 467.0,146.0 467.5,147.5 468.0,147.5 468.5,142.0 469.0,145.4 469.5,145.1 470.0,146.0 470.6,151.1 471.2,151.5 471.8,153.5 472.4,148.1 473.0,152.0 473.5,150.6 474.0,153.9 474.5,155.5 475.0,154.0 475.5,149.8 476.0,146.5 476.5,154.4 477.0,148.0 477.5,149.5 478.1,149.5 478.6,148.4 479.2,143.3 479.7,140.0 480.3,138.5 480.9,139.4 481.4,139.6 482.0,143.0 482.6,146.2 483.2,145.0 483.8,147.5 484.4,147.5 485.0,146.0 485.6,149.7 486.2,145.2 486.8,144.5 487.4,144.5 488.0,149.0 488.6,147.5 489.2,147.5 489.8,147.5 490.4,149.0 491.0,157.0 491.6,157.5 492.2,158.2 492.8,157.8 493.4,155.5 494.0,165.0 494.6,160.5 495.2,160.5 495.8,160.5 496.4,160.5 497.0,162.0 497.5,158.5 498.0,162.8 498.5,163.5 499.0,160.0 499.6,159.6 500.2,161.5 500.8,161.5 501.4,161.5 502.0,160.0 502.6,154.6 503.2,161.5 503.8,161.5 504.4,161.5 505.0,152.0 505.6,153.5 506.2,149.7 506.8,150.5 507.4,149.5 508.0,146.0 508.5,147.5 509.0,147.5 509.5,142.1 510.0,142.0 510.6,141.6 511.2,145.1 511.8,147.5 512.4,147.5 513.0,146.0 513.6,150.8 514.2,151.5 514.8,151.5 515.4,151.5 516.0,150.0 516.5,146.7 517.0,145.1 517.5,140.9 518.0,140.0 518.5,131.1 519.0,131.8 519.5,131.9 520.0,129.0 520.5,124.5 521.0,130.5 521.5,126.9 522.0,118.0 522.5,119.5 523.0,119.5 523.5,119.5 524.0,108.0 524.5,107.1 525.0,112.6 525.5,113.5 526.0,112.0 526.5,117.5 527.0,113.0 527.5,117.5 528.0,116.0 528.6,114.5 529.2,114.5 529.8,114.5 530.4,114.5 531.0,124.0 531.5,123.8 532.0,125.5 532.5,116.6 533.0,114.0 533.5,107.8 534.0,102.5 534.5,102.5 535.0,104.0 535.5,108.3 536.0,102.5 536.5,102.5 537.0,112.0 537.5,110.5 538.0,110.5 538.5,110.5 539.0,120.0 539.1,108.5 539.2,109.5 539.3,111.7 539.4,105.5 539.6,120.0 539.7,115.1 539.8,102.0 539.9,99.7 540.0,90.0 540.5,91.5 541.0,87.2 541.5,84.9 542.0,84.0 542.5,85.5 543.0,84.6 543.5,78.5 544.0,80.0 544.5,79.2 545.0,78.2 545.5,74.5 546.0,76.0 546.5,74.0 547.0,70.0 547.2,70.6 547.5,69.7 547.8,57.5 548.0,58.0 548.2,44.5 548.5,44.5 548.8,44.5 549.0,46.0 549.3,30.5 549.6,27.5 550.0,27.5 550.3,27.5 550.6,29.0 550.9,31.1 551.2,37.7 551.5,40.0 551.6,38.5 551.8,38.5 551.9,45.5 552.0,41.7 552.2,55.7 552.3,60.0 552.4,53.9 552.6,45.7 552.7,59.5 552.9,43.8 553.0,44.0 553.1,42.5 553.3,42.5 553.4,42.5 553.6,44.5 553.7,45.4 553.9,65.0 554.0,66.0 554.2,54.7 554.3,67.1 554.5,62.9 554.7,58.9 554.8,57.2 555.0,46.0 555.1,51.8 555.3,69.5 555.4,65.1 555.6,69.5 555.7,69.5 555.9,69.5 556.0,68.0 556.2,61.7 556.3,57.3 556.5,61.4 556.7,55.8 556.8,50.0 557.0,47.0 557.1,63.4 557.3,54.8 557.4,56.7 557.6,50.0 557.7,57.1 557.9,71.5 558.0,70.0 558.2,67.8 558.5,54.8 558.8,62.9 559.0,56.0 559.2,58.1 559.4,73.5 559.6,73.5 559.8,73.5 560.0,72.0 560.2,73.5 560.5,73.5 560.8,66.1 561.0,58.0 561.3,59.5 561.7,59.5 562.0,48.0 562.2,57.0 562.5,51.1 562.8,50.2 563.0,62.0 563.5,58.5 564.0,60.0 564.2,62.2 564.4,70.2 564.6,65.9 564.8,77.5 565.0,76.0 565.5,81.5 566.0,81.5 566.5,80.0 567.0,80.4 567.5,86.1 568.0,87.0 568.5,76.5 569.0,88.5 569.5,86.4 570.0,78.0 570.5,71.0 571.0,70.0 571.5,68.0 572.0,62.0 572.5,63.5 573.1,59.0 573.6,53.0 573.9,65.5 574.2,61.0 574.5,64.0 575.0,60.1 575.5,58.0 575.7,62.5 575.9,67.4 576.1,71.2 576.3,73.5 576.5,76.0 576.8,75.2 577.2,68.9 577.5,66.0 577.8,70.5 578.0,81.5 578.2,81.5 578.5,80.0 578.8,66.5 579.0,81.5 579.2,74.8 579.5,68.0 579.8,68.6 580.0,68.2 580.2,66.5 580.5,82.0 580.8,69.9 581.0,68.5 581.2,70.6 581.5,70.0 581.7,84.5 581.9,80.9 582.1,84.5 582.3,83.0 582.5,84.5 582.7,84.5 582.8,84.5 583.0,84.5 583.2,68.0 583.4,81.0 583.6,79.7 583.8,79.4 584.0,80.0 584.2,73.1 584.4,71.7 584.6,72.1 584.8,69.0 585.0,64.0 585.2,72.8 585.4,77.5 585.6,72.8 585.8,76.0 586.0,66.2 586.2,70.0 586.3,73.8 586.5,70.3 586.7,60.0 586.9,72.3 587.2,75.5 587.4,75.5 587.6,74.0 587.9,65.5 588.2,61.5 588.5,63.0 588.7,73.0 588.9,68.7 589.1,61.5 589.3,76.0 589.6,72.0 589.9,63.5 590.2,65.0 590.6,63.8 591.0,72.0 591.6,74.0" fill="none" stroke="#09d46f" stroke-width="5.4" stroke-linejoin="round" stroke-linecap="round"/>
<path d="M118 396.5H157" stroke="#2d2e34" stroke-width="5.4" stroke-linecap="round"/>
<text x="163" y="402" style="letter-spacing:-0.55px">iShares Emergin Market ETF</text>
<path d="M432 396.5H471" stroke="#09d46f" stroke-width="5.4" stroke-linecap="round"/>
<text x="475.5" y="402" style="letter-spacing:-0.25px">Gold price</text>
</svg></div></body></html>
